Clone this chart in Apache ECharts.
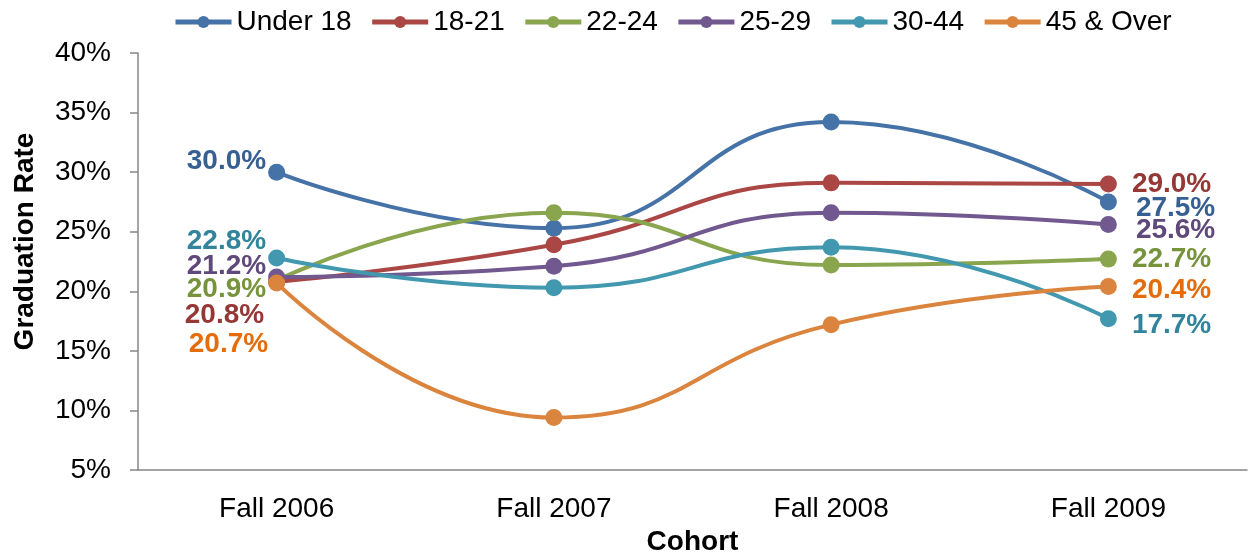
<!DOCTYPE html>
<html>
<head>
<meta charset="utf-8">
<script src="https://cdn.jsdelivr.net/npm/echarts@6/dist/echarts.min.js"></script>
<style>
  html, body { margin: 0; padding: 0; background: #fff; }
  #chart { width: 1249px; height: 554px; }
</style>
</head>
<body>
<div id="chart"></div>
<script>
const categories = ['Fall 2006', 'Fall 2007', 'Fall 2008', 'Fall 2009'];
const under18 = [30.0, 25.3, 34.2, 27.5];
const age18to21 = [20.8, 23.9, 29.1, 29.0];
const age22to24 = [20.9, 26.6, 22.2, 22.7];
const age25to29 = [21.2, 22.1, 26.6, 25.6];
const age30to44 = [22.8, 20.3, 23.7, 17.7];
const age45over = [20.7, 9.4, 17.2, 20.4];
const yTicks = [5, 10, 15, 20, 25, 30, 35, 40];

const font = 'Liberation Sans, Arial, sans-serif';

// line colour, label colour, label offsets (first point, last point)
const seriesDefs = [
    {name: 'Under 18', data: under18, color: '#4572a7', text: '#376092', first: [0, -11], last: [4, 6]},
    {name: '18-21', data: age18to21, color: '#aa4643', text: '#953735', first: [-2, 34], last: [0, 0]},
    {name: '22-24', data: age22to24, color: '#89a54e', text: '#77933c', first: [0, 9], last: [0, 0]},
    {name: '25-29', data: age25to29, color: '#71588f', text: '#5f497a', first: [0, -11], last: [4, 6]},
    {name: '30-44', data: age30to44, color: '#4198af', text: '#31849b', first: [0, -17], last: [0, 7]},
    {name: '45 & Over', data: age45over, color: '#db843d', text: '#e46c0a', first: [2, 61], last: [0, 4]}
];

const myChart = echarts.init(document.getElementById('chart'));

const series = seriesDefs.map(function (s) {
    const last = s.data.length - 1;
    return {
        name: s.name,
        type: 'line',
        smooth: 0.5,
        symbol: 'circle',
        symbolSize: 17,
        itemStyle: {color: s.color},
        lineStyle: {width: 4, color: s.color},
        data: s.data.map(function (v, i) {
            const item = {value: v};
            if (i === 0 || i === last) {
                item.label = {
                    show: true,
                    position: i === 0 ? 'left' : 'right',
                    distance: i === 0 ? 2 : 15,
                    offset: i === 0 ? s.first : s.last,
                    formatter: function (p) { return p.value.toFixed(1) + '%'; },
                    color: s.text,
                    fontFamily: font,
                    fontWeight: 'bold',
                    fontSize: 28
                };
            }
            return item;
        })
    };
});

const option = {
    animation: false,
    backgroundColor: '#fff',
    legend: {
        top: 3,
        left: 168,
        itemWidth: 56,
        itemHeight: 15,
        itemGap: 18,
        lineStyle: {width: 5},
        textStyle: {fontFamily: font, fontSize: 28, color: '#000'},
        data: seriesDefs.map(function (s) { return s.name; })
    },
    grid: {left: 138, right: 2, top: 53, bottom: 84, outerBoundsMode: 'none'},
    xAxis: {
        type: 'category',
        data: categories,
        boundaryGap: true,
        name: 'Cohort',
        nameLocation: 'middle',
        nameGap: 57,
        nameTextStyle: {fontFamily: font, fontWeight: 'bold', fontSize: 28, color: '#000'},
        axisLine: {lineStyle: {color: '#868686', width: 1.5}},
        axisTick: {length: 8, lineStyle: {color: '#868686', width: 1.5}},
        axisLabel: {fontFamily: font, fontSize: 28, color: '#000', margin: 25}
    },
    yAxis: {
        type: 'value',
        min: yTicks[0],
        max: yTicks[yTicks.length - 1],
        interval: 5,
        name: 'Graduation Rate',
        nameLocation: 'middle',
        nameGap: 99,
        nameTextStyle: {fontFamily: font, fontWeight: 'bold', fontSize: 28, color: '#000', padding: [0, 0, 0, 40]},
        axisLine: {show: true, lineStyle: {color: '#868686', width: 1.5}},
        axisTick: {show: true, length: 8, lineStyle: {color: '#868686', width: 1.5}},
        splitLine: {show: false},
        axisLabel: {fontFamily: font, fontSize: 28, color: '#000', margin: 27, formatter: '{value}%'}
    },
    series: series
};

myChart.setOption(option);
</script>
</body>
</html>
